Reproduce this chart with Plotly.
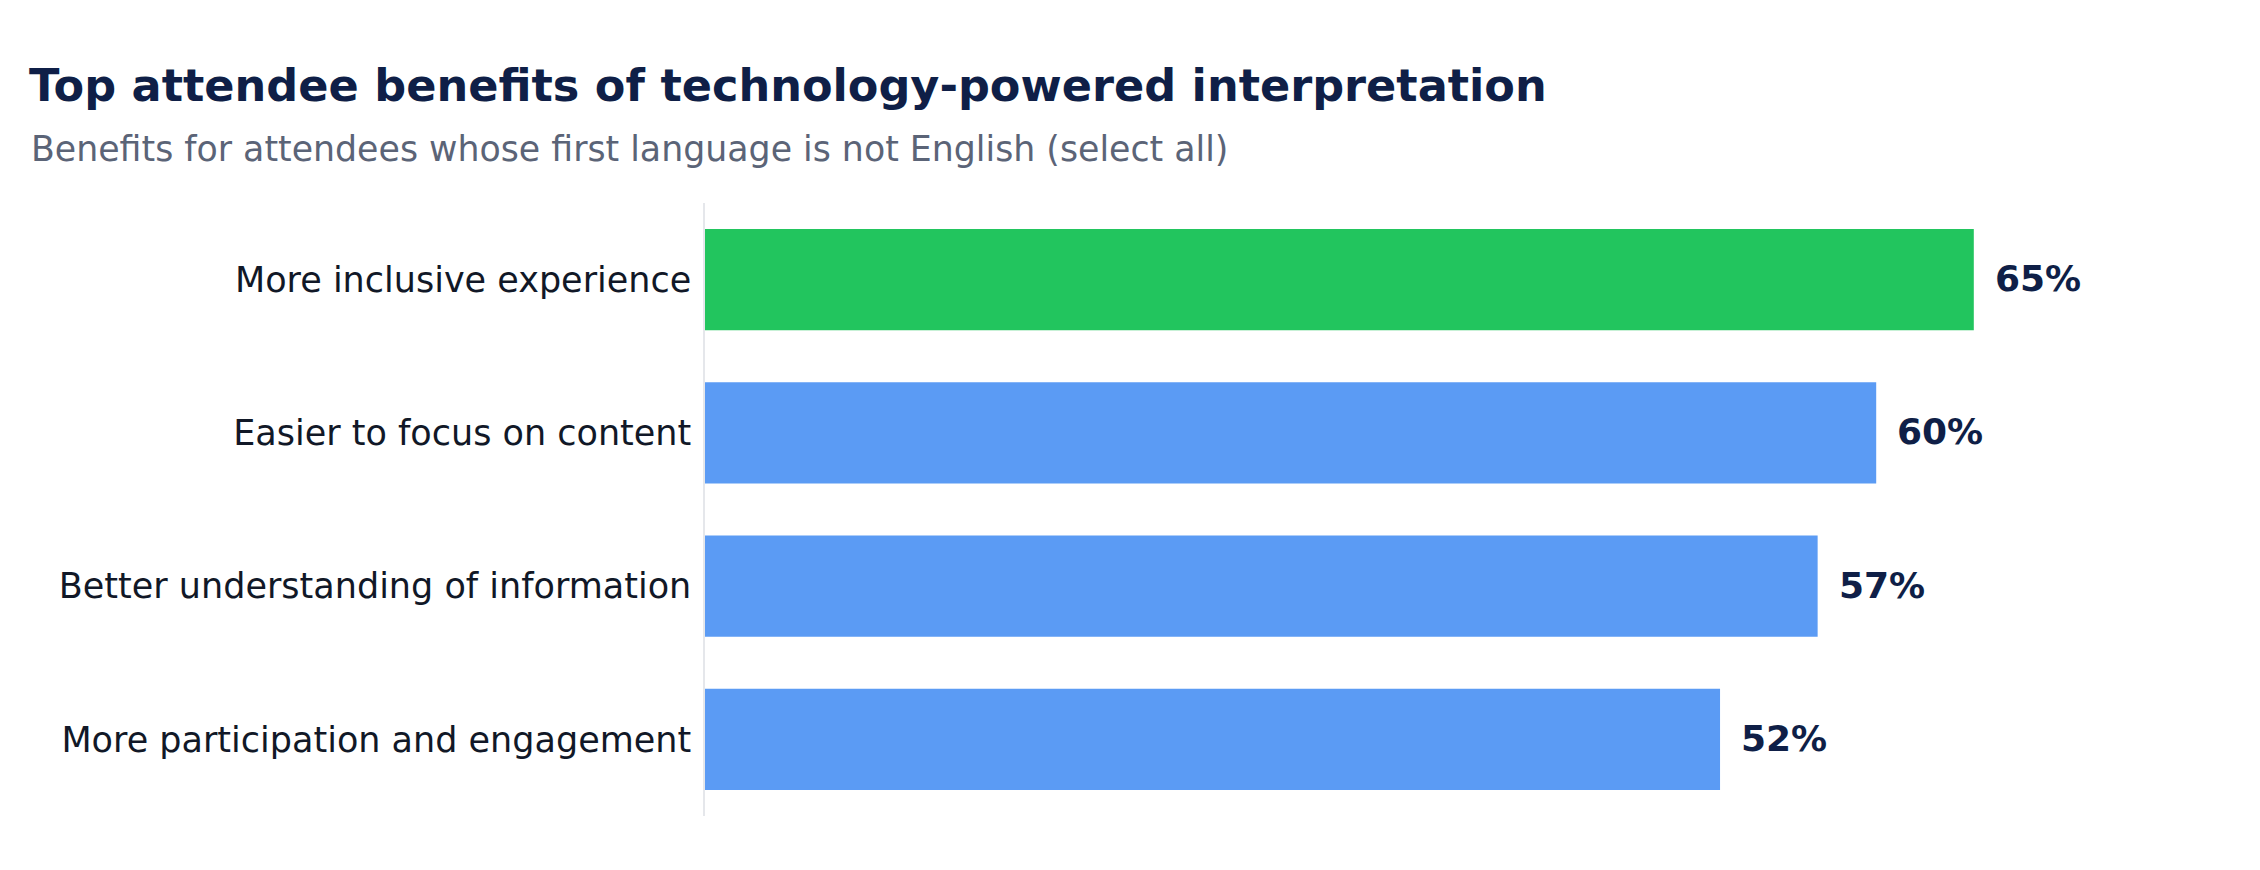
import plotly.graph_objects as go

benefits = ["More inclusive experience", "Easier to focus on content",
            "Better understanding of information", "More participation and engagement"]
shares = [65, 60, 57, 52]
bar_colors = ["#22c55e", "#5b9bf4", "#5b9bf4", "#5b9bf4"]

W, H = 2260, 870
L, R, T, B = 697, 99, 195, 62
plot_w = W - L - R
plot_h = H - T - B

fig = go.Figure()
fig.add_trace(go.Bar(
    x=shares,
    y=benefits,
    orientation="h",
    marker=dict(color=bar_colors, line=dict(width=0)),
    width=0.66,
    hovertemplate="%{y}: %{x}%<extra></extra>",
))

# value labels next to each bar
for b, s in zip(benefits, shares):
    fig.add_annotation(x=s, y=b, text=f"<b>{s}%</b>", showarrow=False,
                       xanchor="left", xshift=19, yshift=1,
                       font=dict(size=36, color="#0f1f47", family="DejaVu Sans"))

# subtitle
fig.add_annotation(
    text="Benefits for attendees whose first language is not English (select all)",
    xref="paper", yref="paper",
    x=(21 - L) / plot_w, y=1 + (T - 141) / plot_h,
    xanchor="left", yanchor="middle", showarrow=False,
    font=dict(size=34.75, color="#5b6477", family="DejaVu Sans"),
)

fig.update_layout(
    title=dict(text="<b>Top attendee benefits of technology-powered interpretation</b>",
               x=21 / W, xref="container", xanchor="left",
               y=1 - 77 / H, yref="container", yanchor="middle",
               font=dict(size=44.6, color="#0f1f47", family="DejaVu Sans")),
    width=W, height=H,
    margin=dict(l=L, r=R, t=T, b=B),
    plot_bgcolor="white", paper_bgcolor="white",
    showlegend=False,
    font=dict(family="DejaVu Sans"),
)
fig.update_xaxes(range=[0, 75], visible=False)
fig.update_yaxes(autorange="reversed", showline=True, linecolor="#e5e7eb", linewidth=1.5,
                 ticks="", ticklabelstandoff=5,
                 tickfont=dict(size=35, color="#111827"), showgrid=False)

fig.write_html("out.html")
